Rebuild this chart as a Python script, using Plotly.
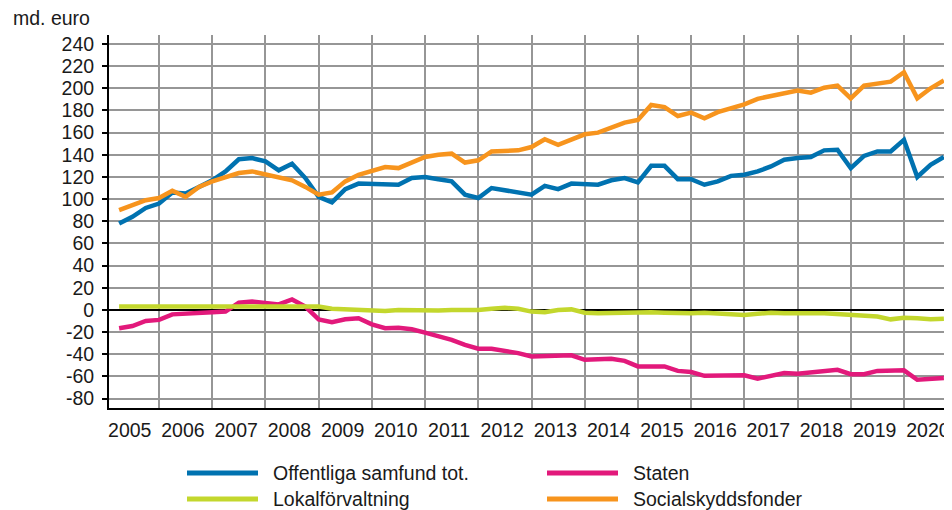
import plotly.graph_objects as go

years = list(range(2005, 2021))
quarters_per_year = [4] * 15 + [3]

offentliga = [78, 84, 92, 96,
              106, 105, 111, 117,
              125, 136, 137, 134,
              126, 132, 119, 102,
              97, 109, 114, 113.5,
              114, 113, 119, 120,
              118, 116, 104, 101,
              110, 108, 106, 104,
              112, 109, 114, 113,
              113, 117, 119, 115,
              130, 130, 118, 118,
              113, 116, 121, 122,
              125, 129.5, 135.5, 137,
              138, 144, 144.5, 128,
              139, 143, 143, 153.5,
              120, 131, 138]

staten = [-16.5, -14.5, -10, -9,
          -4, -3, -2, -2,
          -1.5, 6.5, 7.5, 6,
          5, 9.5, 3, -8.5,
          -11, -8.5, -7.5, -13,
          -16.5, -16, -17.5, -20.5,
          -23.5, -27, -31.5, -35,
          -35, -36.5, -39, -42,
          -42, -41, -41, -45,
          -44.5, -44, -46, -51,
          -51, -51, -55, -56,
          -59.5, -59, -59.5, -59,
          -62, -60, -57, -57.5,
          -56, -54.5, -54, -58,
          -58, -55, -54.5, -54.5,
          -63, -62.5, -61.5]

lokal = [3, 3, 3, 3,
         3, 3, 3, 3,
         3, 3.5, 4, 3.5,
         3.5, 4, 3.5, 3,
         1, 0.5, 1, 0,
         -1, 0, -0.5, -1,
         -0.5, 0, -0.5, 0,
         1, 2, 1, -1.5,
         -2, 0, 0.5, -2.5,
         -3, -2.5, -2, -2.5,
         -2, -2.5, -3, -3,
         -2.5, -3, -3.5, -4.5,
         -3.5, -2.5, -3, -3.5,
         -3, -3, -3.5, -4.5,
         -5, -6, -8.5, -7,
         -7.5, -8.5, -8]

social = [90, 95, 99, 101,
          107.5, 102, 111, 116,
          120, 123.5, 125, 122,
          119, 117, 111, 104,
          106, 116, 122, 125,
          129, 128, 133.5, 138,
          140, 141, 133, 135,
          143, 143, 144, 147,
          154, 149, 154, 158.5,
          160, 165, 169, 171.5,
          185, 183, 175, 178,
          173, 178.5, 182, 185.5,
          190.5, 193, 195, 198,
          196, 200.5, 202.5, 191,
          202.5, 204, 206, 214.5,
          191, 200, 207]

names = ["Offentliga samfund tot.", "Staten", "Lokalförvaltning", "Socialskyddsfonder"]
colors = ["#0072B0", "#E2197B", "#C3D72D", "#F7941D"]
y_ticks = list(range(-80, 241, 20))
year_labels = [str(y) for y in years]

# x position: end of each quarter as fractional year
x = []
for y, nq in zip(years, quarters_per_year):
    for q in range(1, nq + 1):
        x.append(y + q / 4)

fig = go.Figure()
for name, col, vals in zip(names, colors, [offentliga, staten, lokal, social]):
    fig.add_trace(go.Scatter(x=x, y=vals, mode="lines", name=name, showlegend=False,
                             line=dict(color=col, width=4.5)))

grid = "#969696"
FS = 19.5
fig.update_layout(
    width=944, height=502,
    margin=dict(l=101, r=2, t=27, b=102, autoexpand=False),
    plot_bgcolor="white", paper_bgcolor="white",
    font=dict(family="Liberation Sans, Arial, sans-serif", size=FS, color="#1a1a1a"),
    showlegend=False,
    xaxis=dict(range=[2005.06, 2020.865], tickmode="array",
               tickvals=[y + 0.45 for y in years], ticktext=year_labels,
               showgrid=False, ticks="", showline=True, linecolor="black", linewidth=2,
               zeroline=False, ticklabelstandoff=4, ticklabeloverflow="allow",
               minor=dict(tick0=2006, dtick=1, showgrid=True, gridcolor=grid, gridwidth=1.6, ticks="")),
    yaxis=dict(range=[-88.5, 248.1], tickmode="array", tickvals=y_ticks,
               ticktext=[str(v) for v in y_ticks],
               showgrid=True, gridcolor=grid, gridwidth=1.6,
               zeroline=True, zerolinecolor="black", zerolinewidth=1.6,
               showline=True, linecolor="black", linewidth=2,
               ticks="outside", ticklen=5, tickwidth=2, tickcolor="black",
               ticklabelstandoff=4),
)


def px_x(p):
    return (p - 109) / 841


def px_y(p):
    return (408 - p) / 373


fig.add_annotation(text="md. euro", xref="paper", yref="paper",
                   x=px_x(11), y=px_y(18), xanchor="left", yanchor="middle",
                   showarrow=False, font=dict(size=FS))

# legend (2 columns x 2 rows)
legend_pos = [(187, 473), (547, 473), (187, 499), (547, 499)]
for name, col, (lx, ly) in zip(names, colors, legend_pos):
    fig.add_shape(type="line", xref="paper", yref="paper",
                  x0=px_x(lx), x1=px_x(lx + 71), y0=px_y(ly), y1=px_y(ly),
                  line=dict(color=col, width=5))
    fig.add_annotation(text=name, xref="paper", yref="paper",
                       x=px_x(lx + 84), y=px_y(ly), xanchor="left", yanchor="middle",
                       showarrow=False, font=dict(size=FS))

fig.write_html("out.html")
